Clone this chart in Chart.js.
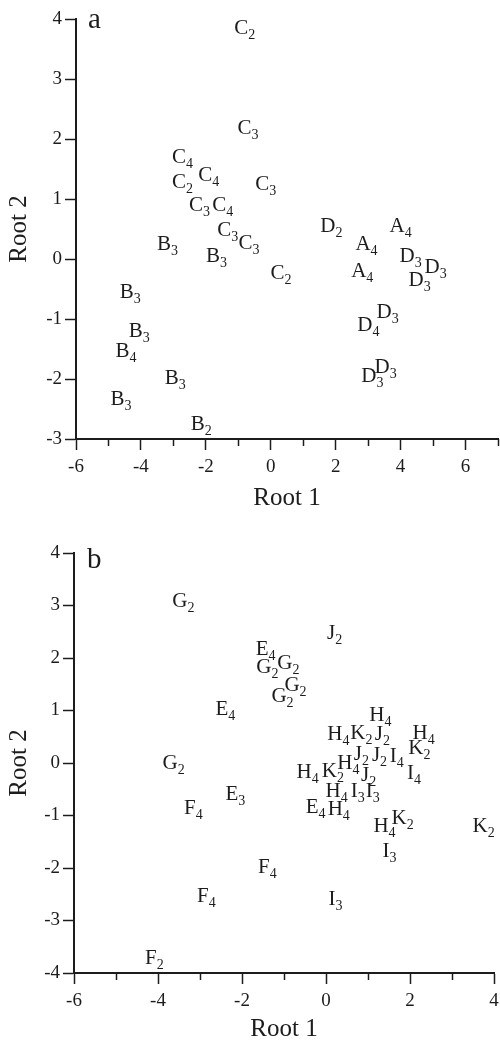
<!DOCTYPE html>
<html>
<head>
<meta charset="utf-8">
<script src="https://cdn.jsdelivr.net/npm/chart.js@4"></script>
<style>
  html, body { margin: 0; padding: 0; background: #fff; overflow: hidden; }
  .panel { position: absolute; left: 0; width: 500px; }
  #wrap_a { top: 0; height: 520px; }
  #wrap_b { top: 520px; height: 524px; }
</style>
</head>
<body>
<div class="panel" id="wrap_a"><canvas id="graph_a"></canvas></div>
<div class="panel" id="wrap_b"><canvas id="graph_b"></canvas></div>
<script>
// panel a : group labels and their Root 1 / Root 2 scores
var names_a = ["C2", "C3", "C4", "C4", "C2", "C3", "C3", "C4", "C3", "C3",
  "B3", "B3", "C2", "D2", "A4", "A4", "A4", "D3", "D3", "D3",
  "D3", "D4", "D3", "D3", "B3", "B3", "B4", "B3", "B3", "B2"];
var root1_a = [-0.91, -0.81, -2.83, -2.02, -2.83, -0.26, -2.30, -1.59, -1.43, -0.78,
  -3.29, -1.78, 0.21, 1.76, 3.89, 2.84, 2.71, 4.20, 4.97, 4.48,
  3.49, 2.90, 3.43, 3.02, -4.44, -4.16, -4.57, -3.05, -4.72, -2.25];
var root2_a = [3.87, 2.20, 1.72, 1.42, 1.30, 1.27, 0.92, 0.92, 0.50, 0.29,
  0.26, 0.06, -0.21, 0.57, 0.56, 0.27, -0.18, 0.06, -0.11, -0.33,
  -0.86, -1.09, -1.78, -1.94, -0.54, -1.19, -1.51, -1.97, -2.31, -2.74];

// panel b
var names_b = ["G2", "J2", "E4", "G2", "G2", "G2", "G2", "E4", "G2", "F4",
  "E3", "F4", "F4", "F2", "I3", "I3", "H4", "K2", "K2", "H4",
  "H4", "K2", "J2", "H4", "K2", "J2", "J2", "I4", "H4", "H4",
  "K2", "J2", "I4", "H4", "I3", "I3", "E4", "H4"];
var root1_b = [-3.48, 0.12, -1.52, -0.98, -1.48, -0.81, -1.12, -2.48, -3.71, -3.24,
  -2.24, -1.48, -2.93, -4.17, 0.14, 1.43, 1.31, 1.74, 3.67, 1.21,
  0.21, 0.76, 1.26, 2.24, 2.14, 0.76, 1.19, 1.60, 0.45, -0.52,
  0.08, 0.93, 2.01, 0.17, 0.67, 1.03, -0.33, 0.22];
var root2_b = [3.10, 2.49, 2.19, 1.92, 1.84, 1.50, 1.30, 1.05, 0.01, -0.83,
  -0.58, -1.97, -2.52, -3.70, -2.57, -1.66, -1.19, -1.02, -1.19, 0.93,
  0.57, 0.60, 0.58, 0.60, 0.30, 0.20, 0.18, 0.16, 0.01, -0.15,
  -0.14, -0.20, -0.18, -0.52, -0.51, -0.52, -0.81, -0.85];

// axis ticks
var xMajor_a = [-6, -4, -2, 0, 2, 4, 6];
var xMinor_a = [-5, -3, -1, 1, 3, 5, 7];
var yTicks_a = [-3, -2, -1, 0, 1, 2, 3, 4];
var xMajor_b = [-6, -4, -2, 0, 2, 4];
var xMinor_b = [-5, -3, -1, 1, 3];
var yTicks_b = [-4, -3, -2, -1, 0, 1, 2, 3, 4];

const ink = "#1c1c1c";
const serif = "'Liberation Serif', 'Times New Roman', serif";

// draws each point as letter + subscript, plus the panel letter
const textLabels = {
  id: "textLabels",
  afterDatasetsDraw(chart, args, opts) {
    const ctx = chart.ctx;
    const ds = chart.data.datasets[0];
    const meta = chart.getDatasetMeta(0);
    ctx.save();
    ctx.fillStyle = ink;
    ctx.textBaseline = "alphabetic";
    meta.data.forEach((pt, i) => {
      const name = ds.names[i];
      const letter = name[0];
      const sub = name.slice(1);
      ctx.font = "21px " + serif;
      const w = ctx.measureText(letter).width;
      ctx.textAlign = "center";
      ctx.fillText(letter, pt.x, pt.y + 7);
      ctx.font = "14px " + serif;
      ctx.textAlign = "left";
      ctx.fillText(sub, pt.x + w / 2, pt.y + 12);
    });
    ctx.font = "29px " + serif;
    ctx.textAlign = "left";
    ctx.fillText(opts.panel, chart.chartArea.left + opts.dx, chart.chartArea.top + opts.dy);
    ctx.restore();
  },
};

function toPoints(xs, ys) {
  return xs.map((v, i) => ({ x: v, y: ys[i] }));
}

function makeConfig(p) {
  return {
    type: "scatter",
    data: {
      datasets: [
        {
          data: toPoints(p.xs, p.ys),
          names: p.names,
          pointRadius: 0,
          pointHoverRadius: 0,
          showLine: false,
        },
      ],
    },
    options: {
      animation: false,
      responsive: true,
      maintainAspectRatio: false,
      layout: { padding: { top: p.padTop, right: p.padRight, left: 0, bottom: 0 } },
      plugins: {
        legend: { display: false },
        tooltip: { enabled: false },
        textLabels: { panel: p.panel, dx: p.dx, dy: p.dy },
      },
      scales: {
        x: {
          type: "linear",
          position: "bottom",
          weight: 1,
          min: p.xMin,
          max: p.xMax,
          afterBuildTicks: (s) => { s.ticks = p.xMajor.map((v) => ({ value: v })); },
          afterFit: (s) => { s.height = p.xHeight; s.paddingLeft = 0; s.paddingRight = 0; },
          grid: { drawOnChartArea: false, tickLength: 11, tickWidth: 1.5, tickColor: ink },
          border: { display: true, color: ink, width: 2 },
          ticks: { color: ink, font: { family: serif, size: 19 }, padding: 6, maxRotation: 0 },
          title: {
            display: true,
            text: "Root 1",
            color: ink,
            font: { family: serif, size: 25 },
            padding: { top: 0, bottom: p.titleBottom },
          },
        },
        // minor ticks, shorter
        x2: {
          type: "linear",
          position: "bottom",
          weight: 0,
          min: p.xMin,
          max: p.xMax,
          afterBuildTicks: (s) => { s.ticks = p.xMinor.map((v) => ({ value: v })); },
          afterFit: (s) => { s.height = 0; s.paddingLeft = 0; s.paddingRight = 0; },
          grid: { drawOnChartArea: false, tickLength: 7, tickWidth: 1.5, tickColor: ink },
          border: { display: false },
          ticks: { display: false },
        },
        y: {
          type: "linear",
          min: p.yMin,
          max: p.yMax,
          afterBuildTicks: (s) => { s.ticks = p.yTicks.map((v) => ({ value: v })); },
          afterFit: (s) => { s.width = p.yWidth; s.paddingTop = 0; s.paddingBottom = 0; },
          grid: { drawOnChartArea: false, tickLength: 11, tickWidth: 1.5, tickColor: ink },
          border: { display: true, color: ink, width: 2 },
          ticks: { color: ink, font: { family: serif, size: 19 }, padding: 3 },
          title: {
            display: true,
            text: "Root 2",
            color: ink,
            font: { family: serif, size: 25 },
            padding: { top: 4, bottom: 0 },
          },
        },
      },
    },
    plugins: [textLabels],
  };
}

// Configuration options
const config_a = makeConfig({
  names: names_a, xs: root1_a, ys: root2_a,
  xMin: -6, xMax: 7, yMin: -3, yMax: 4,
  xMajor: xMajor_a, xMinor: xMinor_a, yTicks: yTicks_a,
  padTop: 19, padRight: 2, xHeight: 81, yWidth: 76, titleBottom: 7,
  panel: "a", dx: 12, dy: 9,
});

const config_b = makeConfig({
  names: names_b, xs: root1_b, ys: root2_b,
  xMin: -6, xMax: 4, yMin: -4, yMax: 4,
  xMajor: xMajor_b, xMinor: xMinor_b, yTicks: yTicks_b,
  padTop: 33, padRight: 6, xHeight: 71, yWidth: 74, titleBottom: 0,
  panel: "b", dx: 13, dy: 15,
});

new Chart(document.getElementById("graph_a"), config_a);
new Chart(document.getElementById("graph_b"), config_b);
</script>
</body>
</html>
